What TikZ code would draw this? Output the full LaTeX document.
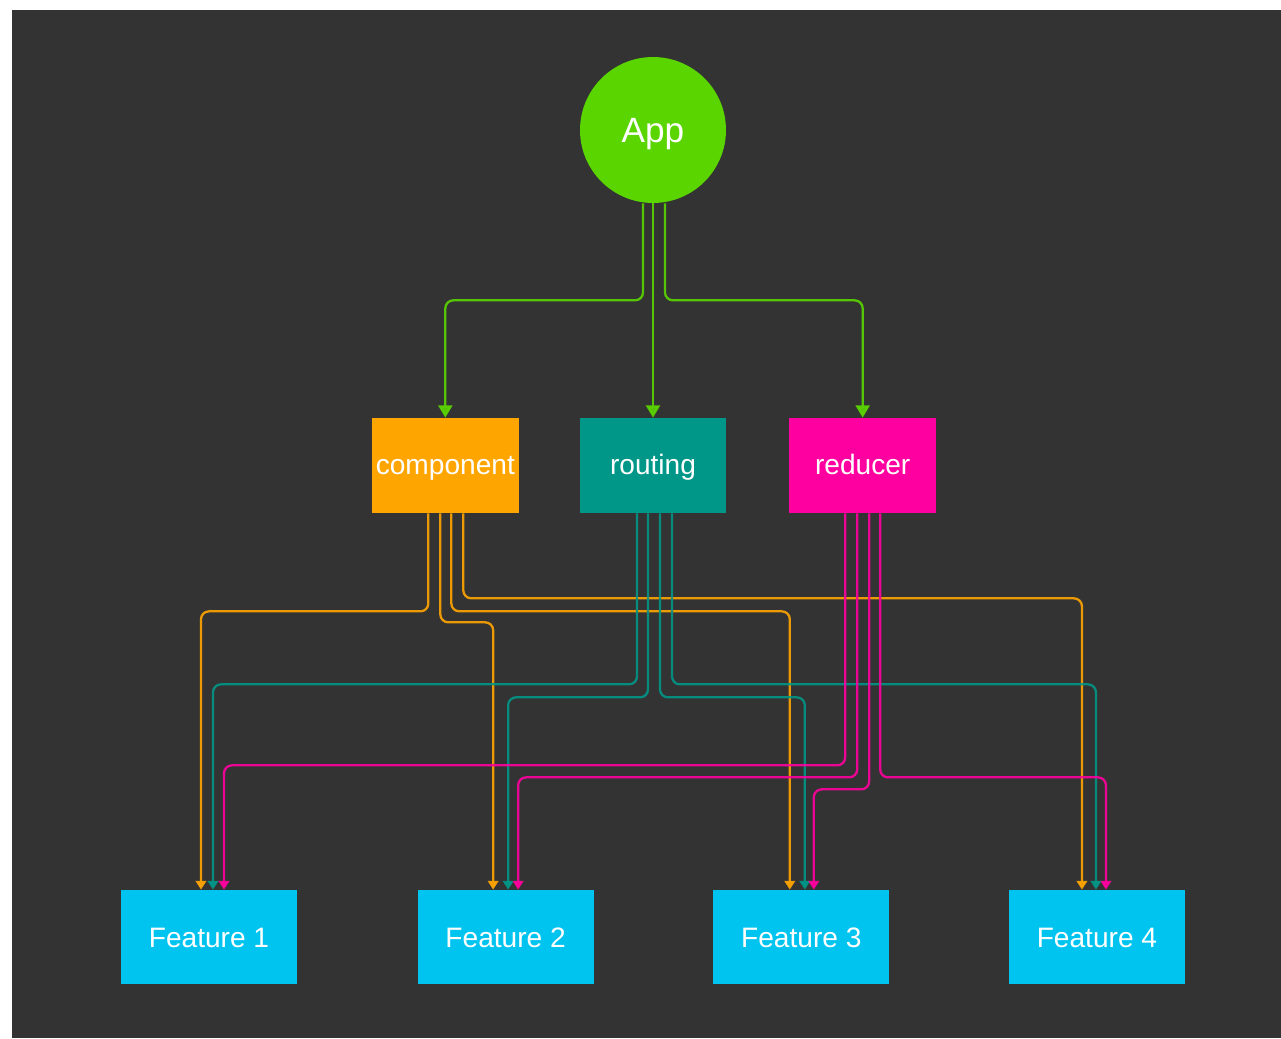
\documentclass[tikz,border=0pt]{standalone}
\usepackage{fontspec}
\setmainfont{Liberation Sans}
\usetikzlibrary{arrows.meta, positioning, calc, backgrounds}
\definecolor{bgdark}{HTML}{333333}
\definecolor{appgreen}{HTML}{5AD500}
\definecolor{cmporange}{HTML}{FFA500}
\definecolor{rtteal}{HTML}{009688}
\definecolor{redpink}{HTML}{FF00A0}
\definecolor{featcyan}{HTML}{00C4F0}
\tikzset{
  appnode/.style  = {circle, fill=appgreen, minimum size=2.92cm, inner sep=0pt,
                     text=white, font=\fontsize{20}{24}\selectfont,
                     text height=13.7pt, text depth=0pt},
  partbox/.style  = {rectangle, minimum width=2.94cm, minimum height=1.9cm,
                     inner sep=0pt, text=white, font=\fontsize{16}{19}\selectfont,
                     text height=9.7pt, text depth=0pt},
  featbox/.style  = {partbox, fill=featcyan, minimum width=3.52cm,
                     minimum height=1.88cm, text height=11.4pt},
  wire/.style     = {line width=1.3pt, rounded corners=4.5pt, opacity=0.9,
                     -{Triangle[length=5pt, width=6pt]}},
  appwire/.style  = {wire, draw=appgreen, -{Triangle[length=7pt, width=8pt]}},
  cmpwire/.style  = {wire, draw=cmporange},
  rtwire/.style   = {wire, draw=rtteal},
  redwire/.style  = {wire, draw=redpink},
}
\begin{document}
\begin{tikzpicture}[x=0.02cm, y=-0.02cm]
  \useasboundingbox (0,0) rectangle (1281,1038);
  \node[appnode] (app) at (653,130) {App};
  \node[partbox, fill=rtteal] (routing) at (653,465.5) {routing};
  \node[partbox, fill=cmporange, left=1.2cm of routing] (component) {component};
  \node[partbox, fill=redpink, right=1.24cm of routing] (reducer) {reducer};
  \node[featbox] (f1) at (209,937) {Feature 1};
  \node[featbox, right=2.4cm of f1] (f2) {Feature 2};
  \node[featbox, right=2.38cm of f2] (f3) {Feature 3};
  \node[featbox, right=2.38cm of f3] (f4) {Feature 4};
  \begin{scope}[on background layer]
    \fill[bgdark] (12,10) rectangle (1281,1038);
    % app
    \draw[appwire] ($(app.south)+(-10,0)$) -- ++(0,97) -| (component.north);
    \draw[appwire] (app.south) -- (routing.north);
    \draw[appwire] ($(app.south)+(12,0)$) -- ++(0,97) -| (reducer.north);
    % component
    \draw[cmpwire] ($(component.south)+(-17,0)$) -- ++(0,98) -| ($(f1.north)+(-8,0)$);
    \draw[cmpwire] ($(component.south)+(-5,0)$) -- ++(0,109) -| ($(f2.north)+(-12.5,0)$);
    \draw[cmpwire] ($(component.south)+(6,0)$) -- ++(0,98) -| ($(f3.north)+(-11.5,0)$);
    \draw[cmpwire] ($(component.south)+(18,0)$) -- ++(0,85) -| ($(f4.north)+(-15,0)$);
    % routing
    \draw[rtwire] ($(routing.south)+(-16,0)$) -- ++(0,171) -| ($(f1.north)+(4,0)$);
    \draw[rtwire] ($(routing.south)+(-5,0)$) -- ++(0,184) -| ($(f2.north)+(2.5,0)$);
    \draw[rtwire] ($(routing.south)+(7,0)$) -- ++(0,184) -| ($(f3.north)+(3.5,0)$);
    \draw[rtwire] ($(routing.south)+(19,0)$) -- ++(0,171) -| ($(f4.north)+(-1,0)$);
    % reducer
    \draw[redwire] ($(reducer.south)+(-17.5,0)$) -- ++(0,252) -| ($(f1.north)+(15,0)$);
    \draw[redwire] ($(reducer.south)+(-5.5,0)$) -- ++(0,264) -| ($(f2.north)+(12.5,0)$);
    \draw[redwire] ($(reducer.south)+(6.5,0)$) -- ++(0,276) -| ($(f3.north)+(12.5,0)$);
    \draw[redwire] ($(reducer.south)+(17.5,0)$) -- ++(0,264) -| ($(f4.north)+(9,0)$);
  \end{scope}
\end{tikzpicture}
\end{document}
